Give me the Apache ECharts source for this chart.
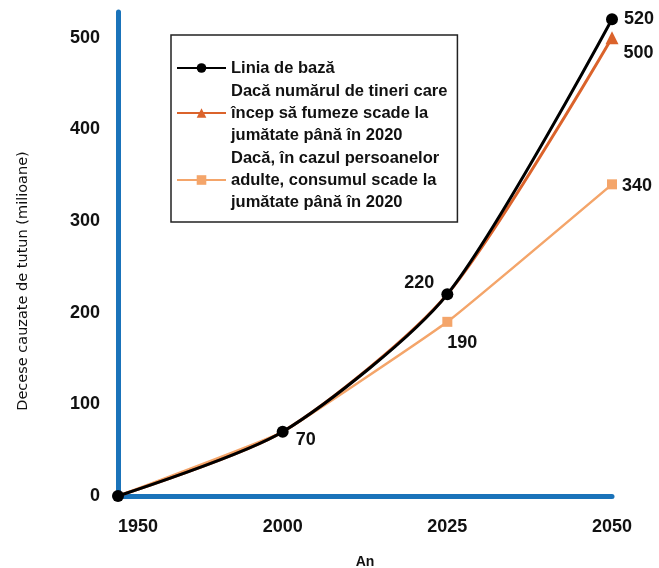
<!DOCTYPE html>
<html><head><meta charset="utf-8">
<script src="https://cdn.jsdelivr.net/npm/echarts@6/dist/echarts.min.js"></script>
<style>html,body{margin:0;padding:0;background:#fff}#c{width:659px;height:568px}</style>
</head><body><div id="c"></div>
<script>
const years = ['1950', '2000', '2025', '2050'];
const baseline = [0, 70, 220, 520];
const youthHalf = [0, 70, 220, 500];
const adultHalf = [0, 70, 190, 340];
const yTicks = [0, 100, 200, 300, 400, 500];
const names = ['Linia de bază',
  'Dacă numărul de tineri care\nîncep să fumeze scade la\njumătate până în 2020',
  'Dacă, în cazul persoanelor\nadulte, consumul scade la\njumătate până în 2020'];

const FONT = '"Liberation Sans", Arial, sans-serif';
const lbl = {fontFamily: FONT, fontWeight: 'bold', fontSize: 18, color: '#111'};
const chart = echarts.init(document.getElementById('c'));
chart.setOption({
  backgroundColor: '#fff',
  animation: false,
  grid: {left: 118, right: 47, top: 12, bottom: 72, outerBoundsMode: 'none', containLabel: false},
  legend: {
    left: 171, top: 35, orient: 'vertical',
    data: [names[0], names[1], names[2]],
    borderColor: '#222', borderWidth: 1.5, padding: [22, 10, 9, 5],
    itemWidth: 49, itemHeight: 12, itemGap: 1,
    textStyle: {fontFamily: FONT, fontWeight: 'bold', fontSize: 16.5, color: '#111', lineHeight: 22}
  },
  xAxis: {
    type: 'category', data: years, boundaryGap: false,
    name: 'An', nameLocation: 'middle', nameGap: 59,
    nameTextStyle: {fontFamily: FONT, fontWeight: 'bold', fontSize: 14, color: '#111'},
    axisLine: {lineStyle: {color: '#1a73ba', width: 5}},
    axisTick: {show: false},
    axisLabel: Object.assign({margin: 22, alignMinLabel: 'left'}, lbl)
  },
  yAxis: {
    type: 'value', min: 0, max: 528, interval: 100,
    name: 'Decese cauzate de tutun (milioane)', nameLocation: 'middle', nameGap: 87,
    nameTextStyle: {fontFamily: '"DejaVu Sans", sans-serif', fontSize: 14.5, color: '#111', padding: [0, 54, 0, 0]},
    axisLine: {show: true, lineStyle: {color: '#1a73ba', width: 5}},
    axisTick: {show: false}, splitLine: {show: false},
    axisLabel: Object.assign({margin: 18, showMaxLabel: false,
      formatter: v => yTicks.includes(v) ? String(v) : ''}, lbl)
  },
  series: [
    {
      name: names[2], type: 'line', smooth: 0.1,
      data: adultHalf.map((v, i) => ({value: v, symbolSize: i < 2 ? 0 : 10,
        label: {show: i >= 2, position: i === 2 ? 'bottom' : 'right',
          offset: i === 2 ? [15, 2] : [0, 2], formatter: '{c}', ...lbl}})),
      color: '#f4a56a', lineStyle: {width: 2.5, color: '#f4a56a'},
      symbol: 'rect', symbolSize: 10,
      itemStyle: {color: '#f4a56a'}, z: 2
    },
    {
      name: names[1], type: 'line', smooth: 0.25,
      data: youthHalf.map((v, i) => ({value: v, symbolSize: i < 3 ? 0 : 13,
        label: {show: i === 3, position: 'right', offset: [0, 15], formatter: '{c}', ...lbl}})),
      color: '#db632b', lineStyle: {width: 3, color: '#db632b'},
      symbol: 'triangle', symbolSize: 13,
      itemStyle: {color: '#db632b'}, z: 3
    },
    {
      name: names[0], type: 'line', smooth: 0.25,
      data: baseline.map((v, i) => ({value: v,
        label: {show: i >= 1, position: i === 2 ? 'left' : 'right',
          offset: i === 1 ? [2, 8] : (i === 2 ? [-2, -11] : [1, 0]), formatter: '{c}', ...lbl}})),
      color: '#000', lineStyle: {width: 3, color: '#000'},
      symbol: 'circle', symbolSize: 12,
      itemStyle: {color: '#000'}, z: 4
    }
  ]
});
</script></body></html>
